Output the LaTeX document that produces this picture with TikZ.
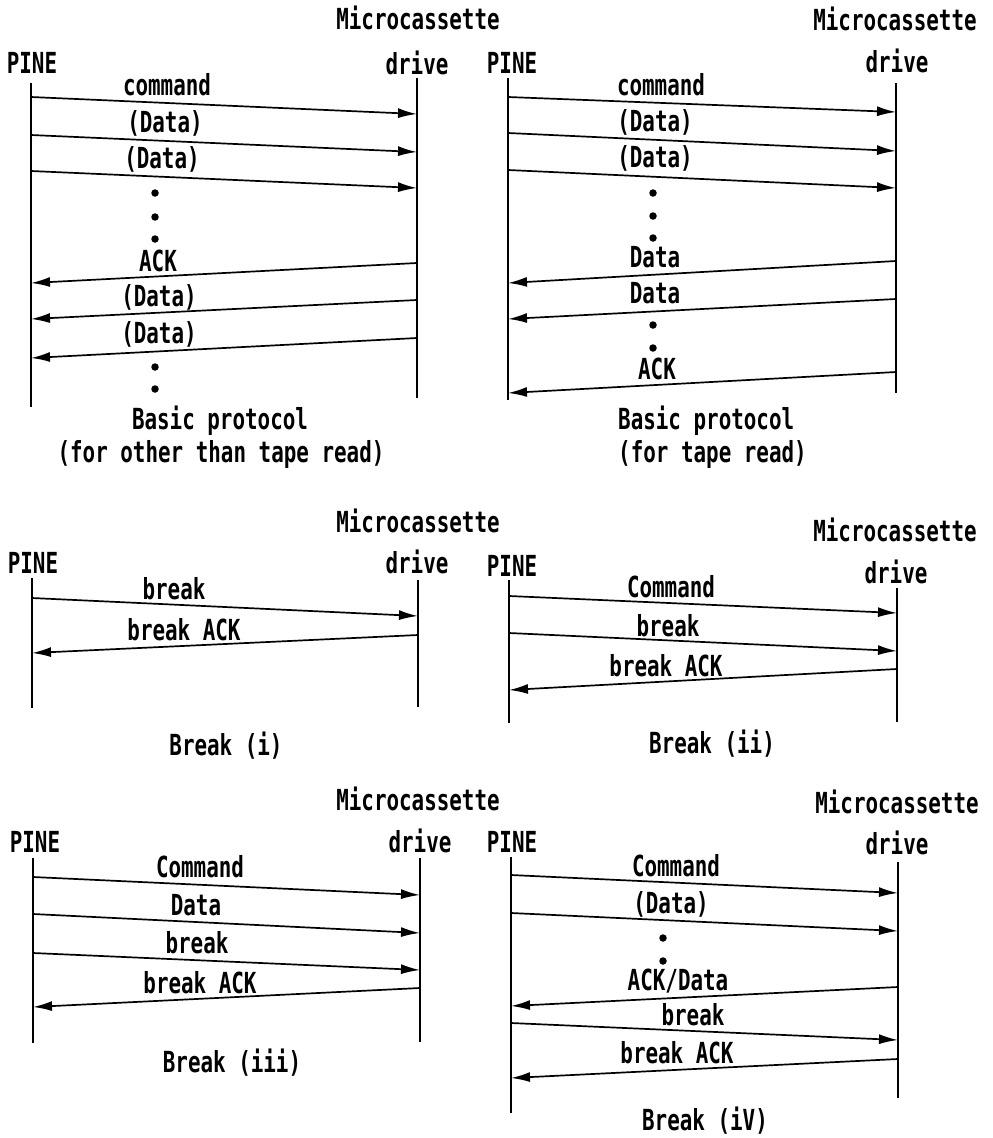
\documentclass[tikz,border=0pt]{standalone}
\usepackage{fontspec}
\newfontfamily\lblfont[FakeStretch=0.72]{DejaVu Sans Mono}
\usetikzlibrary{arrows.meta}
\tikzset{
  lbl/.style={font={\lblfont\bfseries\fontsize{29pt}{29pt}\selectfont}, inner sep=0pt, text height=21pt, text depth=0pt},
  life/.style={line width=2pt},
  msg/.style={line width=1.7pt, -{Latex[length=19pt,width=10pt]}},
  dotm/.style={circle, fill, inner sep=0pt, minimum size=7.5pt},
}
\begin{document}
\begin{tikzpicture}[x=1pt,y=-1pt]
\useasboundingbox (0,0) rectangle (993,1138);
% ================= Panel 1 =================
\node[lbl] (pine1) at (32,63) {PINE};
\node[lbl] (mc1) at (418,19) {Microcassette};
\node[lbl] (drv1) at (417,64) {drive};
\path (31,83) coordinate (l1t) (31,407) coordinate (l1b)
      (417,78) coordinate (r1t) (417,398) coordinate (r1b);
\draw[life] (l1t) -- (l1b);
\draw[life] (r1t) -- (r1b);
\path (31,97) coordinate (p1a) (417,114) coordinate (q1a)
      (31,135) coordinate (p1b) (417,152) coordinate (q1b)
      (31,171) coordinate (p1c) (417,188) coordinate (q1c)
      (417,263) coordinate (q1d) (31,283) coordinate (p1d)
      (417,300) coordinate (q1e) (31,319) coordinate (p1e)
      (417,338) coordinate (q1f) (31,358) coordinate (p1f);
\draw[msg] (p1a) -- (q1a);
\draw[msg] (p1b) -- (q1b);
\draw[msg] (p1c) -- (q1c);
\draw[msg] (q1d) -- (p1d);
\draw[msg] (q1e) -- (p1e);
\draw[msg] (q1f) -- (p1f);
\node[lbl] (t1a) at (167,85) {command};
\node[lbl] (t1b) at (165,122) {(Data)};
\node[lbl] (t1c) at (162,158) {(Data)};
\node[lbl] (t1d) at (158,261) {ACK};
\node[lbl] (t1e) at (159,296) {(Data)};
\node[lbl] (t1f) at (159,333) {(Data)};
\node[dotm] (d1a) at (155,193) {};
\node[dotm] (d1b) at (155,217) {};
\node[dotm] (d1c) at (155,239) {};
\node[dotm] (d1d) at (155,367) {};
\node[dotm] (d1e) at (155,389) {};
\node[lbl] (cap1a) at (220,419) {Basic protocol};
\node[lbl] (cap1b) at (221,452) {(for other than tape read)};
% ================= Panel 2 =================
\node[lbl] (pine2) at (512,63) {PINE};
\node[lbl] (mc2) at (895,20) {Microcassette};
\node[lbl] (drv2) at (897,62) {drive};
\path (508,78) coordinate (l2t) (508,400) coordinate (l2b)
      (896,83) coordinate (r2t) (896,393) coordinate (r2b);
\draw[life] (l2t) -- (l2b);
\draw[life] (r2t) -- (r2b);
\path (508,97) coordinate (p2a) (896,112) coordinate (q2a)
      (508,133) coordinate (p2b) (896,151) coordinate (q2b)
      (508,170) coordinate (p2c) (896,188) coordinate (q2c)
      (896,261) coordinate (q2d) (508,283) coordinate (p2d)
      (896,299) coordinate (q2e) (508,319) coordinate (p2e)
      (896,372) coordinate (q2f) (508,393) coordinate (p2f);
\draw[msg] (p2a) -- (q2a);
\draw[msg] (p2b) -- (q2b);
\draw[msg] (p2c) -- (q2c);
\draw[msg] (q2d) -- (p2d);
\draw[msg] (q2e) -- (p2e);
\draw[msg] (q2f) -- (p2f);
\node[lbl] (t2a) at (661,85) {command};
\node[lbl] (t2b) at (655,121) {(Data)};
\node[lbl] (t2c) at (655,157) {(Data)};
\node[lbl] (t2d) at (655,257) {Data};
\node[lbl] (t2e) at (655,293) {Data};
\node[lbl] (t2f) at (657,369) {ACK};
\node[dotm] (d2a) at (653,193) {};
\node[dotm] (d2b) at (653,216) {};
\node[dotm] (d2c) at (653,238) {};
\node[dotm] (d2d) at (653,325) {};
\node[dotm] (d2e) at (653,348) {};
\node[lbl, anchor=west] (cap2a) at (618,419) {Basic protocol};
\node[lbl, anchor=west] (cap2b) at (618,452) {(for tape read)};
% ================= Panel 3 : Break (i) =================
\node[lbl] (mc3) at (418,522) {Microcassette};
\node[lbl] (pine3) at (33,563) {PINE};
\node[lbl] (drv3) at (417,563) {drive};
\path (32,578) coordinate (l3t) (32,708) coordinate (l3b)
      (418,580) coordinate (r3t) (418,707) coordinate (r3b);
\draw[life] (l3t) -- (l3b);
\draw[life] (r3t) -- (r3b);
\path (32,598) coordinate (p3a) (418,616) coordinate (q3a)
      (418,635) coordinate (q3b) (32,653) coordinate (p3b);
\draw[msg] (p3a) -- (q3a);
\draw[msg] (q3b) -- (p3b);
\node[lbl] (t3a) at (174,589) {break};
\node[lbl] (t3b) at (184,630) {break ACK};
\node[lbl] (cap3) at (226,745) {Break (i)};
% ================= Panel 4 : Break (ii) =================
\node[lbl] (mc4) at (895,531) {Microcassette};
\node[lbl] (pine4) at (512,566) {PINE};
\node[lbl] (drv4) at (896,573) {drive};
\path (509,580) coordinate (l4t) (509,723) coordinate (l4b)
      (897,588) coordinate (r4t) (897,722) coordinate (r4b);
\draw[life] (l4t) -- (l4b);
\draw[life] (r4t) -- (r4b);
\path (509,596) coordinate (p4a) (897,613) coordinate (q4a)
      (509,633) coordinate (p4b) (897,651) coordinate (q4b)
      (897,669) coordinate (q4c) (509,690) coordinate (p4c);
\draw[msg] (p4a) -- (q4a);
\draw[msg] (p4b) -- (q4b);
\draw[msg] (q4c) -- (p4c);
\node[lbl] (t4a) at (671,587) {Command};
\node[lbl] (t4b) at (668,626) {break};
\node[lbl] (t4c) at (666,666) {break ACK};
\node[lbl] (cap4) at (712,743) {Break (ii)};
% ================= Panel 5 : Break (iii) =================
\node[lbl] (mc5) at (418,800) {Microcassette};
\node[lbl] (pine5) at (35,842) {PINE};
\node[lbl] (drv5) at (420,842) {drive};
\path (33,858) coordinate (l5t) (33,1043) coordinate (l5b)
      (420,858) coordinate (r5t) (420,1042) coordinate (r5b);
\draw[life] (l5t) -- (l5b);
\draw[life] (r5t) -- (r5b);
\path (33,877) coordinate (p5a) (420,895) coordinate (q5a)
      (33,914) coordinate (p5b) (420,933) coordinate (q5b)
      (33,953) coordinate (p5c) (420,970) coordinate (q5c)
      (420,988) coordinate (q5d) (33,1007) coordinate (p5d);
\draw[msg] (p5a) -- (q5a);
\draw[msg] (p5b) -- (q5b);
\draw[msg] (p5c) -- (q5c);
\draw[msg] (q5d) -- (p5d);
\node[lbl] (t5a) at (200,867) {Command};
\node[lbl] (t5b) at (196,905) {Data};
\node[lbl] (t5c) at (197,943) {break};
\node[lbl] (t5d) at (200,983) {break ACK};
\node[lbl] (cap5) at (232,1062) {Break (iii)};
% ================= Panel 6 : Break (iV) =================
\node[lbl] (mc6) at (897,803) {Microcassette};
\node[lbl] (pine6) at (512,842) {PINE};
\node[lbl] (drv6) at (897,844) {drive};
\path (511,857) coordinate (l6t) (511,1113) coordinate (l6b)
      (898,862) coordinate (r6t) (898,1098) coordinate (r6b);
\draw[life] (l6t) -- (l6b);
\draw[life] (r6t) -- (r6b);
\path (511,875) coordinate (p6a) (898,893) coordinate (q6a)
      (511,913) coordinate (p6b) (898,931) coordinate (q6b)
      (898,987) coordinate (q6c) (511,1006) coordinate (p6c)
      (511,1023) coordinate (p6d) (898,1040) coordinate (q6d)
      (898,1059) coordinate (q6e) (511,1078) coordinate (p6e);
\draw[msg] (p6a) -- (q6a);
\draw[msg] (p6b) -- (q6b);
\draw[msg] (q6c) -- (p6c);
\draw[msg] (p6d) -- (q6d);
\draw[msg] (q6e) -- (p6e);
\node[lbl] (t6a) at (676,866) {Command};
\node[lbl] (t6b) at (671,903) {(Data)};
\node[dotm] (d6a) at (663,938) {};
\node[dotm] (d6b) at (663,961) {};
\node[lbl] (t6c) at (678,980) {ACK/Data};
\node[lbl] (t6d) at (693,1015) {break};
\node[lbl] (t6e) at (677,1053) {break ACK};
\node[lbl] (cap6) at (705,1120) {Break (iV)};
\end{tikzpicture}
\end{document}
